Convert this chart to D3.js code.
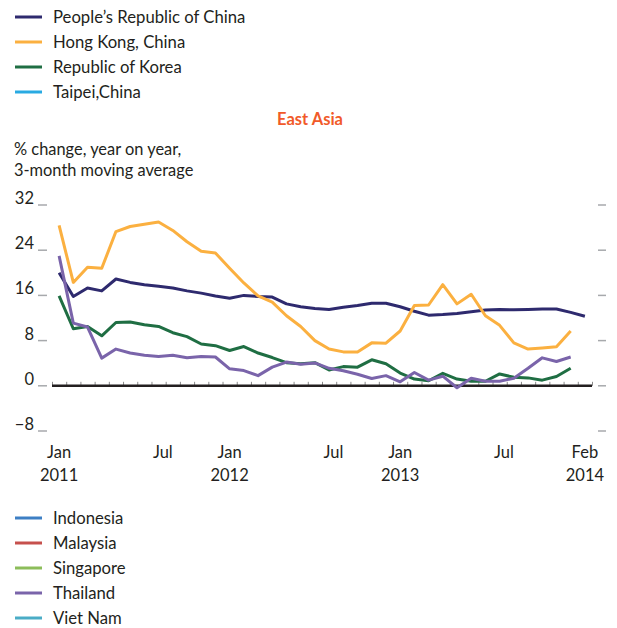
<!DOCTYPE html>
<html>
<head>
<meta charset="utf-8">
<script src="https://cdn.jsdelivr.net/npm/d3@7"></script>
<style>
    body { margin: 0; background: #ffffff; }
    svg { display: block; font-family: Lato, "Open Sans", sans-serif; }
</style>
</head>
<body>
<svg id="chart" width="617" height="628"></svg>
<script>
const topLegendNames = ['People\u2019s Republic of China', 'Hong Kong, China', 'Republic of Korea', 'Taipei,China'];
const topLegendColors = ['#2e2a6e', '#fbb040', '#1f6e43', '#29aae2'];
const bottomLegendNames = ['Indonesia', 'Malaysia', 'Singapore', 'Thailand', 'Viet Nam'];
const bottomLegendColors = ['#3d7fc4', '#c6504d', '#8cbd5a', '#7a64aa', '#4aacc6'];

// monthly, Jan 2011 = index 0
const china = [20.0, 15.8, 17.3, 16.8, 18.9, 18.3, 17.9, 17.6, 17.3, 16.8,
    16.4, 15.9, 15.5, 16.0, 15.8, 15.7, 14.5, 14.0, 13.7, 13.5,
    13.9, 14.2, 14.6, 14.6, 14.0, 13.2, 12.5, 12.6, 12.8, 13.1,
    13.4, 13.5, 13.45, 13.5, 13.6, 13.6, 13.0, 12.3];
const hongKong = [28.4, 18.3, 21.0, 20.8, 27.3, 28.2, 28.6, 29.0, 27.5, 25.5,
    23.8, 23.5, 20.8, 18.2, 15.9, 14.8, 12.4, 10.5, 8.0, 6.5,
    6.0, 6.0, 7.6, 7.55, 9.7, 14.2, 14.3, 17.9, 14.5, 16.2,
    12.4, 10.7, 7.6, 6.5, 6.7, 6.9, 9.7];
const korea = [15.9, 10.1, 10.5, 8.85, 11.2, 11.3, 10.8, 10.5, 9.4, 8.7,
    7.4, 7.1, 6.25, 6.95, 5.8, 5.0, 4.1, 3.9, 4.1, 2.8,
    3.4, 3.3, 4.6, 3.9, 2.25, 1.2, 0.9, 2.2, 1.2, 0.8,
    0.8, 2.1, 1.5, 1.4, 1.0, 1.65, 3.1];
const thailand = [23.0, 11.1, 10.4, 4.9, 6.5, 5.8, 5.4, 5.2, 5.4, 4.95,
    5.2, 5.1, 3.0, 2.7, 1.8, 3.3, 4.2, 3.8, 4.05, 3.1,
    2.65, 2.05, 1.3, 1.8, 0.7, 2.35, 1.0, 1.7, -0.35, 1.35,
    0.8, 0.8, 1.35, 3.1, 4.95, 4.3, 5.1];

const yTicks = [32, 24, 16, 8, 0, -8];
const xLabelPositions = [0, 7.3, 12, 19.3, 24, 31.3, 37];
const xLabelMonths = ['Jan', 'Jul', 'Jan', 'Jul', 'Jan', 'Jul', 'Feb'];
const xLabelYears = ['2011', '', '2012', '', '2013', '', '2014'];
const monthCount = 38;

const svg = d3.select('#chart');

const x = d3.scaleLinear().domain([-0.5, monthCount - 0.5]).range([52, 592]);
const y = d3.scaleLinear().domain([-8, 32]).range([431, 205]);

function renderLegend(names, colors, top) {
    const rows = svg.append('g').selectAll('g').data(names).enter().append('g')
        .attr('transform', (d, i) => 'translate(0,' + (top + i * 25) + ')');
    rows.append('line')
        .attr('x1', 15).attr('x2', 42)
        .attr('stroke', (d, i) => colors[i])
        .attr('stroke-width', 3);
    rows.append('text')
        .attr('x', 53).attr('dy', '0.35em')
        .attr('font-size', 16.7).attr('fill', '#231f20')
        .text((d) => d);
}

renderLegend(topLegendNames, topLegendColors, 17);
renderLegend(bottomLegendNames, bottomLegendColors, 518);

svg.append('text')
    .attr('x', 310).attr('y', 125)
    .attr('text-anchor', 'middle')
    .attr('font-size', 16.5).attr('font-weight', 'bold')
    .attr('fill', '#f15a29')
    .text('East Asia');

svg.append('text').attr('x', 14).attr('y', 155)
    .attr('font-size', 16.4).attr('fill', '#231f20')
    .text('% change, year on year,');
svg.append('text').attr('x', 14).attr('y', 176)
    .attr('font-size', 16.4).attr('fill', '#231f20')
    .text('3-month moving average');

// y ticks: label with a short dash, and a dash on the right edge
const yGroup = svg.append('g');
yGroup.selectAll('text').data(yTicks).enter().append('text')
    .attr('x', 34).attr('y', (d) => y(d) - 1)
    .attr('text-anchor', 'end')
    .attr('font-size', 16.5).attr('fill', '#231f20')
    .text((d) => d < 0 ? '\u2212' + Math.abs(d) : d);
yGroup.selectAll('line.left').data(yTicks).enter().append('line')
    .attr('class', 'left')
    .attr('x1', 38).attr('x2', 47)
    .attr('y1', (d) => y(d)).attr('y2', (d) => y(d))
    .attr('stroke', '#a7a9ac').attr('stroke-width', 1.5);
yGroup.selectAll('line.right').data(yTicks).enter().append('line')
    .attr('class', 'right')
    .attr('x1', 598).attr('x2', 606)
    .attr('y1', (d) => y(d)).attr('y2', (d) => y(d))
    .attr('stroke', '#a7a9ac').attr('stroke-width', 1.5);

// x axis
const xAxis = d3.axisTop(x)
    .tickValues(d3.range(-0.5, monthCount, 1))
    .tickSize(4)
    .tickFormat('');
const xGroup = svg.append('g').attr('transform', 'translate(0,' + y(0) + ')').call(xAxis);
xGroup.select('.domain').remove();
xGroup.selectAll('.tick line').attr('stroke', '#8a8a8a').attr('stroke-width', 1);
xGroup.append('line')
    .attr('x1', x(-0.5)).attr('x2', x(monthCount - 0.5))
    .attr('stroke', '#231f20').attr('stroke-width', 2.5);

const labels = svg.append('g').selectAll('g').data(xLabelPositions).enter().append('g');
labels.append('text')
    .attr('x', (d) => x(d)).attr('y', 458)
    .attr('text-anchor', 'middle').attr('font-size', 16.5).attr('fill', '#231f20')
    .text((d, i) => xLabelMonths[i]);
labels.append('text')
    .attr('x', (d) => x(d)).attr('y', 481)
    .attr('text-anchor', 'middle').attr('font-size', 16.5).attr('fill', '#231f20')
    .text((d, i) => xLabelYears[i]);

// series
const line = d3.line().x((d, i) => x(i)).y((d) => y(d));
const series = [
    { values: china, color: topLegendColors[0] },
    { values: hongKong, color: topLegendColors[1] },
    { values: korea, color: topLegendColors[2] },
    { values: thailand, color: bottomLegendColors[3] }
];
svg.append('g').selectAll('path').data(series).enter().append('path')
    .attr('d', (d) => line(d.values))
    .attr('fill', 'none')
    .attr('stroke', (d) => d.color)
    .attr('stroke-width', 3)
    .attr('stroke-linejoin', 'round');
</script>
</body>
</html>
